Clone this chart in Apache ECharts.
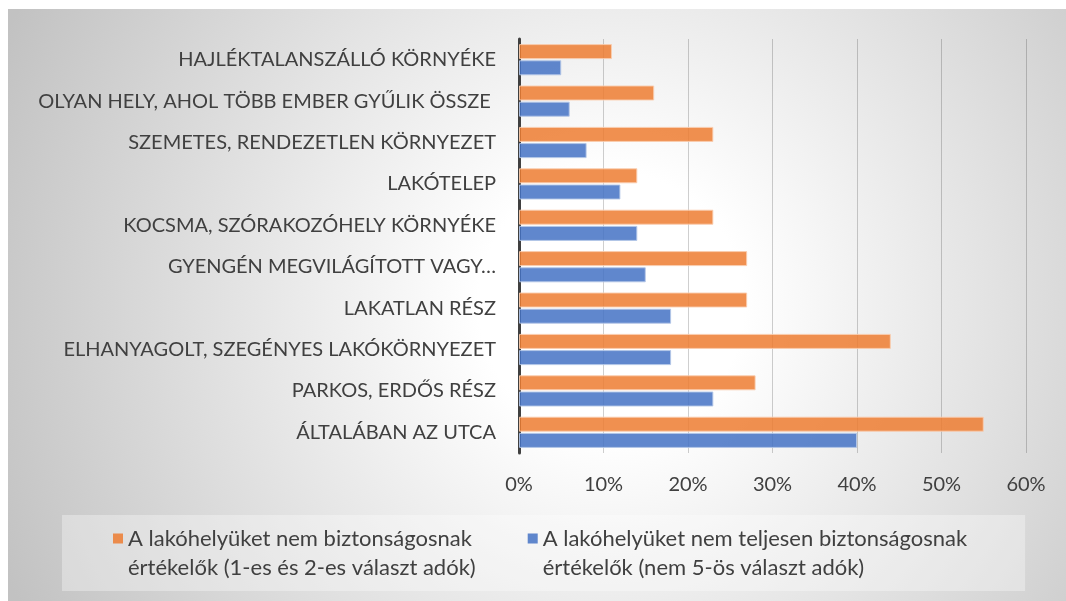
<!DOCTYPE html>
<html>
<head>
<meta charset="utf-8">
<script src="https://cdn.jsdelivr.net/npm/echarts@6/dist/echarts.min.js"></script>
<style>
  html, body { margin: 0; padding: 0; background: #ffffff; }
  #chart { position: absolute; left: 8px; top: 9px; width: 1058px; height: 592px; }
</style>
</head>
<body>
<div id="chart"></div>
<script>
// Helyszínek, felülről lefelé
const categories = [
  'HAJLÉKTALANSZÁLLÓ KÖRNYÉKE',
  'OLYAN HELY, AHOL TÖBB EMBER GYŰLIK ÖSSZE ',
  'SZEMETES, RENDEZETLEN KÖRNYEZET',
  'LAKÓTELEP',
  'KOCSMA, SZÓRAKOZÓHELY KÖRNYÉKE',
  'GYENGÉN MEGVILÁGÍTOTT VAGY…',
  'LAKATLAN RÉSZ',
  'ELHANYAGOLT, SZEGÉNYES LAKÓKÖRNYEZET',
  'PARKOS, ERDŐS RÉSZ',
  'ÁLTALÁBAN AZ UTCA'
];

const seriesNames = [
  'A lakóhelyüket nem biztonságosnak\nértékelők (1-es és 2-es választ adók)',
  'A lakóhelyüket nem teljesen biztonságosnak\nértékelők (nem 5-ös választ adók)'
];

// Arányok százalékban
const notSafe = [11, 16, 23, 14, 23, 27, 27, 44, 28, 55];
const notFullySafe = [5, 6, 8, 12, 14, 15, 18, 18, 23, 40];

const xTicks = { min: 0, max: 60, interval: 10 };

const textColor = '#404040';
const fontFamily = 'Lato, "Open Sans", sans-serif';

// Legend marker: square aligned with the first line of a two-line label
const legendIcon = 'path://M0,9.5h10v10h-10z M0,0h0.01v0.01h-0.01z M0,58h0.01v0.01h-0.01z';

const chart = echarts.init(document.getElementById('chart'), null, { renderer: 'canvas' });

chart.setOption({
  backgroundColor: {
    type: 'radial', x: 0.57, y: 0.5, r: 1.12,
    colorStops: [
      { offset: 0, color: '#ffffff' },
      { offset: 0.2, color: '#ffffff' },
      { offset: 1, color: '#c2c2c2' }
    ]
  },
  animation: false,
  textStyle: { fontFamily: fontFamily, color: textColor },
  grid: { left: 511, right: 40, top: 30, bottom: 148, containLabel: false },
  xAxis: {
    type: 'value',
    min: xTicks.min, max: xTicks.max, interval: xTicks.interval,
    axisLine: { show: false },
    axisTick: { show: false },
    axisLabel: {
      formatter: '{value}%', color: textColor, fontSize: 20, margin: 22, fontFamily: fontFamily
    },
    splitLine: { show: true, lineStyle: { color: 'rgba(0,0,0,0.19)', width: 1 } }
  },
  yAxis: {
    type: 'category',
    data: categories,
    inverse: true,
    axisLine: { show: true, lineStyle: { color: '#404040', width: 3 } },
    axisTick: { show: false },
    axisLabel: { color: textColor, fontSize: 20, margin: 23, fontFamily: fontFamily }
  },
  legend: {
    left: 54, top: 506,
    orient: 'horizontal',
    icon: legendIcon,
    itemWidth: 10, itemHeight: 58,
    itemGap: 52,
    padding: [9, 58, 9, 51],
    backgroundColor: 'rgba(255,255,255,0.33)',
    itemStyle: { borderWidth: 0 },
    textStyle: { color: textColor, fontSize: 22, lineHeight: 29, fontFamily: fontFamily },
    data: seriesNames
  },
  series: [
    {
      name: seriesNames[0],
      type: 'bar',
      data: notSafe,
      barWidth: 15,
      barGap: '8%',
      itemStyle: {
        color: 'rgba(237,125,49,0.85)',
        borderColor: 'rgba(250,205,175,0.9)',
        borderWidth: 1
      }
    },
    {
      name: seriesNames[1],
      type: 'bar',
      data: notFullySafe,
      barWidth: 15,
      barGap: '8%',
      itemStyle: {
        color: 'rgba(68,114,196,0.85)',
        borderColor: 'rgba(180,199,231,0.9)',
        borderWidth: 1
      }
    }
  ]
});
</script>
</body>
</html>
